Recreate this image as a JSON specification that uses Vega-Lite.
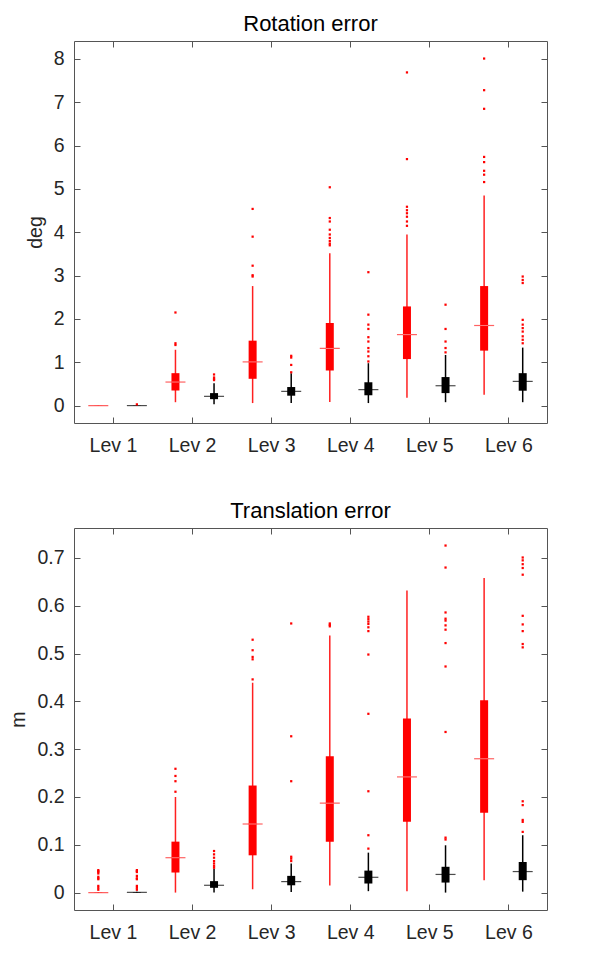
{
  "$schema": "https://vega.github.io/schema/vega-lite/v6.json",
  "background": "white",
  "padding": {"left": 8, "top": 12, "right": 5, "bottom": 5},
  "spacing": 44,
  "config": {
    "font": "Liberation Sans",
    "view": {"stroke": "#555555", "strokeWidth": 1},
    "title": {"fontSize": 22, "fontWeight": "normal", "color": "#000000", "offset": 5},
    "axis": {
      "grid": false,
      "domain": false,
      "tickSize": 6,
      "offset": -6,
      "tickColor": "#555555",
      "labelFontSize": 19.5,
      "labelColor": "#262626",
      "titleFontSize": 19.5,
      "titleFontWeight": "normal",
      "titleColor": "#262626"
    }
  },
  "datasets": {
    "rotBox": [
      {"pos": 1, "m": "r", "lo": 0, "q1": 0, "med": 0, "q3": 0.003, "hi": 0.005},
      {"pos": 2, "m": "b", "lo": 0, "q1": 0, "med": 0.002, "q3": 0.005, "hi": 0.01},
      {"pos": 3, "m": "r", "lo": 0.08, "q1": 0.35, "med": 0.545, "q3": 0.75, "hi": 1.29},
      {"pos": 4, "m": "b", "lo": 0.03, "q1": 0.15, "med": 0.215, "q3": 0.29, "hi": 0.52},
      {"pos": 5, "m": "r", "lo": 0.06, "q1": 0.62, "med": 1.01, "q3": 1.5, "hi": 2.76},
      {"pos": 6, "m": "b", "lo": 0.06, "q1": 0.23, "med": 0.33, "q3": 0.43, "hi": 0.75},
      {"pos": 7, "m": "r", "lo": 0.085, "q1": 0.81, "med": 1.32, "q3": 1.905, "hi": 3.52},
      {"pos": 8, "m": "b", "lo": 0.06, "q1": 0.24, "med": 0.37, "q3": 0.54, "hi": 0.98},
      {"pos": 9, "m": "r", "lo": 0.18, "q1": 1.075, "med": 1.64, "q3": 2.29, "hi": 3.95},
      {"pos": 10, "m": "b", "lo": 0.08, "q1": 0.29, "med": 0.46, "q3": 0.66, "hi": 1.17},
      {"pos": 11, "m": "r", "lo": 0.25, "q1": 1.27, "med": 1.85, "q3": 2.76, "hi": 4.85},
      {"pos": 12, "m": "b", "lo": 0.08, "q1": 0.345, "med": 0.56, "q3": 0.75, "hi": 1.34}
    ],
    "rotOut": [
      {"pos": 2, "v": 0.03},
      {"pos": 3, "v": 1.4}, {"pos": 3, "v": 1.44}, {"pos": 3, "v": 2.15},
      {"pos": 4, "v": 0.59}, {"pos": 4, "v": 0.62}, {"pos": 4, "v": 0.65}, {"pos": 4, "v": 0.72},
      {"pos": 5, "v": 2.98}, {"pos": 5, "v": 3.01}, {"pos": 5, "v": 3.23}, {"pos": 5, "v": 3.9}, {"pos": 5, "v": 4.54},
      {"pos": 6, "v": 0.77}, {"pos": 6, "v": 0.94}, {"pos": 6, "v": 1.11}, {"pos": 6, "v": 1.15},
      {"pos": 7, "v": 3.7}, {"pos": 7, "v": 3.74}, {"pos": 7, "v": 3.8}, {"pos": 7, "v": 3.87}, {"pos": 7, "v": 3.95}, {"pos": 7, "v": 4.06}, {"pos": 7, "v": 4.25}, {"pos": 7, "v": 4.33}, {"pos": 7, "v": 5.04},
      {"pos": 8, "v": 1.02}, {"pos": 8, "v": 1.14}, {"pos": 8, "v": 1.25}, {"pos": 8, "v": 1.33}, {"pos": 8, "v": 1.48}, {"pos": 8, "v": 1.58}, {"pos": 8, "v": 1.77}, {"pos": 8, "v": 1.87}, {"pos": 8, "v": 2.1}, {"pos": 8, "v": 3.08},
      {"pos": 9, "v": 4.15}, {"pos": 9, "v": 4.25}, {"pos": 9, "v": 4.36}, {"pos": 9, "v": 4.44}, {"pos": 9, "v": 4.51}, {"pos": 9, "v": 4.59}, {"pos": 9, "v": 5.69}, {"pos": 9, "v": 7.69},
      {"pos": 10, "v": 1.23}, {"pos": 10, "v": 1.33}, {"pos": 10, "v": 1.48}, {"pos": 10, "v": 1.77}, {"pos": 10, "v": 2.33},
      {"pos": 11, "v": 5.16}, {"pos": 11, "v": 5.33}, {"pos": 11, "v": 5.42}, {"pos": 11, "v": 5.62}, {"pos": 11, "v": 5.74}, {"pos": 11, "v": 6.85}, {"pos": 11, "v": 7.28}, {"pos": 11, "v": 8.01},
      {"pos": 12, "v": 1.44}, {"pos": 12, "v": 1.52}, {"pos": 12, "v": 1.6}, {"pos": 12, "v": 1.71}, {"pos": 12, "v": 1.79}, {"pos": 12, "v": 1.87}, {"pos": 12, "v": 1.98}, {"pos": 12, "v": 2.83}, {"pos": 12, "v": 2.9}, {"pos": 12, "v": 2.98}
    ],
    "traBox": [
      {"pos": 1, "m": "r", "lo": 0, "q1": 0, "med": 0, "q3": 0.0005, "hi": 0.001},
      {"pos": 2, "m": "b", "lo": 0, "q1": 0, "med": 0.0005, "q3": 0.001, "hi": 0.002},
      {"pos": 3, "m": "r", "lo": 0, "q1": 0.042, "med": 0.073, "q3": 0.1066, "hi": 0.2},
      {"pos": 4, "m": "b", "lo": 0, "q1": 0.01, "med": 0.0153, "q3": 0.024, "hi": 0.05},
      {"pos": 5, "m": "r", "lo": 0.007, "q1": 0.078, "med": 0.1435, "q3": 0.224, "hi": 0.439},
      {"pos": 6, "m": "b", "lo": 0.001, "q1": 0.0153, "med": 0.023, "q3": 0.035, "hi": 0.061},
      {"pos": 7, "m": "r", "lo": 0.015, "q1": 0.1066, "med": 0.187, "q3": 0.285, "hi": 0.538},
      {"pos": 8, "m": "b", "lo": 0.003, "q1": 0.019, "med": 0.032, "q3": 0.046, "hi": 0.0836},
      {"pos": 9, "m": "r", "lo": 0.003, "q1": 0.148, "med": 0.242, "q3": 0.364, "hi": 0.632},
      {"pos": 10, "m": "b", "lo": 0, "q1": 0.021, "med": 0.038, "q3": 0.054, "hi": 0.099},
      {"pos": 11, "m": "r", "lo": 0.026, "q1": 0.167, "med": 0.28, "q3": 0.4026, "hi": 0.658},
      {"pos": 12, "m": "b", "lo": 0.002, "q1": 0.026, "med": 0.044, "q3": 0.064, "hi": 0.12}
    ],
    "traOut": [
      {"pos": 1, "v": 0.006}, {"pos": 1, "v": 0.01}, {"pos": 1, "v": 0.014}, {"pos": 1, "v": 0.028}, {"pos": 1, "v": 0.03}, {"pos": 1, "v": 0.033}, {"pos": 1, "v": 0.04}, {"pos": 1, "v": 0.043}, {"pos": 1, "v": 0.045}, {"pos": 1, "v": 0.047},
      {"pos": 2, "v": 0.006}, {"pos": 2, "v": 0.01}, {"pos": 2, "v": 0.014}, {"pos": 2, "v": 0.028}, {"pos": 2, "v": 0.03}, {"pos": 2, "v": 0.035}, {"pos": 2, "v": 0.043}, {"pos": 2, "v": 0.045}, {"pos": 2, "v": 0.047},
      {"pos": 3, "v": 0.211}, {"pos": 3, "v": 0.233}, {"pos": 3, "v": 0.244}, {"pos": 3, "v": 0.259},
      {"pos": 4, "v": 0.052}, {"pos": 4, "v": 0.056}, {"pos": 4, "v": 0.061}, {"pos": 4, "v": 0.066}, {"pos": 4, "v": 0.073}, {"pos": 4, "v": 0.08}, {"pos": 4, "v": 0.087},
      {"pos": 5, "v": 0.446}, {"pos": 5, "v": 0.488}, {"pos": 5, "v": 0.493}, {"pos": 5, "v": 0.507}, {"pos": 5, "v": 0.529},
      {"pos": 6, "v": 0.066}, {"pos": 6, "v": 0.071}, {"pos": 6, "v": 0.075}, {"pos": 6, "v": 0.233}, {"pos": 6, "v": 0.327}, {"pos": 6, "v": 0.563},
      {"pos": 7, "v": 0.557}, {"pos": 7, "v": 0.56}, {"pos": 7, "v": 0.563},
      {"pos": 8, "v": 0.092}, {"pos": 8, "v": 0.12}, {"pos": 8, "v": 0.212}, {"pos": 8, "v": 0.374}, {"pos": 8, "v": 0.498}, {"pos": 8, "v": 0.547}, {"pos": 8, "v": 0.555}, {"pos": 8, "v": 0.562}, {"pos": 8, "v": 0.567}, {"pos": 8, "v": 0.572}, {"pos": 8, "v": 0.577},
      {"pos": 10, "v": 0.111}, {"pos": 10, "v": 0.115}, {"pos": 10, "v": 0.336}, {"pos": 10, "v": 0.473}, {"pos": 10, "v": 0.522}, {"pos": 10, "v": 0.55}, {"pos": 10, "v": 0.559}, {"pos": 10, "v": 0.569}, {"pos": 10, "v": 0.573}, {"pos": 10, "v": 0.586}, {"pos": 10, "v": 0.68}, {"pos": 10, "v": 0.726},
      {"pos": 12, "v": 0.127}, {"pos": 12, "v": 0.148}, {"pos": 12, "v": 0.152}, {"pos": 12, "v": 0.183}, {"pos": 12, "v": 0.191}, {"pos": 12, "v": 0.513}, {"pos": 12, "v": 0.52}, {"pos": 12, "v": 0.547}, {"pos": 12, "v": 0.561}, {"pos": 12, "v": 0.579}, {"pos": 12, "v": 0.665}, {"pos": 12, "v": 0.679}, {"pos": 12, "v": 0.687}, {"pos": 12, "v": 0.695}, {"pos": 12, "v": 0.701}
    ]
  },
  "vconcat": [
    {
      "title": "Rotation error",
      "width": 473,
      "height": 382,
      "resolve": {"axis": {"x": "independent", "y": "independent"}},
      "layer": [
        {
          "data": {"name": "rotBox"},
          "mark": {"type": "rule", "strokeWidth": 1.5},
          "encoding": {
            "x": {"field": "pos", "type": "quantitative", "scale": {"domain": [0.5, 12.5], "nice": false, "zero": false},
              "axis": {"values": [1.38, 3.43, 5.48, 7.53, 9.58, 11.63], "labelExpr": "'Lev ' + round((datum.value + 0.67) / 2.05)", "title": null, "labelPadding": 13}},
            "y": {"field": "lo", "type": "quantitative", "scale": {"domain": [-0.4, 8.415], "nice": false, "zero": false},
              "axis": {"values": [0, 1, 2, 3, 4, 5, 6, 7, 8], "format": "d", "title": "deg", "labelPadding": 10, "titlePadding": 8}},
            "y2": {"field": "hi"},
            "color": {"field": "m", "type": "nominal", "scale": {"domain": ["r", "b"], "range": ["#ff2020", "#000000"]}, "legend": null}
          }
        },
        {
          "data": {"name": "rotBox"},
          "mark": {"type": "bar", "size": 8},
          "encoding": {
            "x": {"field": "pos", "type": "quantitative", "axis": null},
            "y": {"field": "q1", "type": "quantitative", "axis": null},
            "y2": {"field": "q3"},
            "fill": {"field": "m", "type": "nominal", "scale": {"domain": ["r", "b"], "range": ["#ff0000", "#000000"]}, "legend": null}
          }
        },
        {
          "data": {"name": "rotBox"},
          "mark": {"type": "tick", "orient": "horizontal", "size": 20, "thickness": 1.2},
          "encoding": {
            "x": {"field": "pos", "type": "quantitative", "axis": null},
            "y": {"field": "med", "type": "quantitative", "axis": null},
            "color": {"field": "m", "type": "nominal", "legend": null}
          }
        },
        {
          "data": {"name": "rotBox"},
          "mark": {"type": "tick", "orient": "horizontal", "size": 8, "thickness": 1, "color": "#ff8080", "opacity": 0.9},
          "transform": [{"filter": "datum.m === 'r' && datum.q3 > datum.q1 + 0.05"}],
          "encoding": {
            "x": {"field": "pos", "type": "quantitative", "axis": null},
            "y": {"field": "med", "type": "quantitative", "axis": null}
          }
        },
        {
          "data": {"name": "rotOut"},
          "mark": {"type": "point", "shape": "square", "filled": true, "size": 5, "color": "#ff0000", "opacity": 1},
          "encoding": {
            "x": {"field": "pos", "type": "quantitative", "axis": null},
            "y": {"field": "v", "type": "quantitative", "axis": null}
          }
        },
        {
          "data": {"name": "rotBox"},
          "mark": {"type": "rule", "opacity": 0},
          "encoding": {
            "x": {"field": "pos", "type": "quantitative", "axis": {"orient": "top", "values": [1.38, 3.43, 5.48, 7.53, 9.58, 11.63], "labels": false, "title": null}},
            "y": {"field": "lo", "type": "quantitative", "axis": {"orient": "right", "values": [0, 1, 2, 3, 4, 5, 6, 7, 8], "labels": false, "title": null}}
          }
        }
      ]
    },
    {
      "title": "Translation error",
      "width": 473,
      "height": 382,
      "resolve": {"axis": {"x": "independent", "y": "independent"}},
      "layer": [
        {
          "data": {"name": "traBox"},
          "mark": {"type": "rule", "strokeWidth": 1.5},
          "encoding": {
            "x": {"field": "pos", "type": "quantitative", "scale": {"domain": [0.5, 12.5], "nice": false, "zero": false},
              "axis": {"values": [1.38, 3.43, 5.48, 7.53, 9.58, 11.63], "labelExpr": "'Lev ' + round((datum.value + 0.67) / 2.05)", "title": null, "labelPadding": 13}},
            "y": {"field": "lo", "type": "quantitative", "scale": {"domain": [-0.0364, 0.7627], "nice": false, "zero": false},
              "axis": {"values": [0, 0.1, 0.2, 0.3, 0.4, 0.5, 0.6, 0.7], "format": ".1~f", "title": "m", "labelPadding": 10, "titlePadding": 8}},
            "y2": {"field": "hi"},
            "color": {"field": "m", "type": "nominal", "scale": {"domain": ["r", "b"], "range": ["#ff2020", "#000000"]}, "legend": null}
          }
        },
        {
          "data": {"name": "traBox"},
          "mark": {"type": "bar", "size": 8},
          "encoding": {
            "x": {"field": "pos", "type": "quantitative", "axis": null},
            "y": {"field": "q1", "type": "quantitative", "axis": null},
            "y2": {"field": "q3"},
            "fill": {"field": "m", "type": "nominal", "scale": {"domain": ["r", "b"], "range": ["#ff0000", "#000000"]}, "legend": null}
          }
        },
        {
          "data": {"name": "traBox"},
          "mark": {"type": "tick", "orient": "horizontal", "size": 20, "thickness": 1.2},
          "encoding": {
            "x": {"field": "pos", "type": "quantitative", "axis": null},
            "y": {"field": "med", "type": "quantitative", "axis": null},
            "color": {"field": "m", "type": "nominal", "legend": null}
          }
        },
        {
          "data": {"name": "traBox"},
          "mark": {"type": "tick", "orient": "horizontal", "size": 8, "thickness": 1, "color": "#ff8080", "opacity": 0.9},
          "transform": [{"filter": "datum.m === 'r' && datum.q3 > datum.q1 + 0.005"}],
          "encoding": {
            "x": {"field": "pos", "type": "quantitative", "axis": null},
            "y": {"field": "med", "type": "quantitative", "axis": null}
          }
        },
        {
          "data": {"name": "traOut"},
          "mark": {"type": "point", "shape": "square", "filled": true, "size": 5, "color": "#ff0000", "opacity": 1},
          "encoding": {
            "x": {"field": "pos", "type": "quantitative", "axis": null},
            "y": {"field": "v", "type": "quantitative", "axis": null}
          }
        },
        {
          "data": {"name": "traBox"},
          "mark": {"type": "rule", "opacity": 0},
          "encoding": {
            "x": {"field": "pos", "type": "quantitative", "axis": {"orient": "top", "values": [1.38, 3.43, 5.48, 7.53, 9.58, 11.63], "labels": false, "title": null}},
            "y": {"field": "lo", "type": "quantitative", "axis": {"orient": "right", "values": [0, 0.1, 0.2, 0.3, 0.4, 0.5, 0.6, 0.7], "labels": false, "title": null}}
          }
        }
      ]
    }
  ]
}
